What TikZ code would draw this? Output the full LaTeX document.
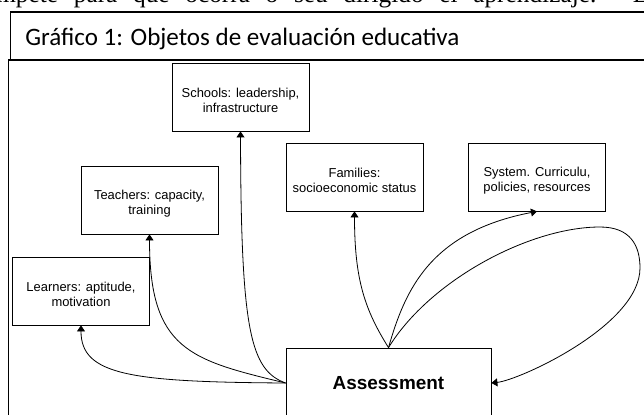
\documentclass[tikz,border=0pt]{standalone}
\usepackage{fontspec}
\setmainfont{Liberation Serif}
\newfontfamily\arialf{Liberation Sans}
\newfontfamily\calib{Carlito}
\usetikzlibrary{arrows.meta}
\begin{document}
\begin{tikzpicture}[x=0.75pt,y=-0.75pt,
  frame/.style={line width=1.3pt, line cap=rect},
  box/.style={draw, line width=0.6pt, inner sep=0pt,
    minimum width=102.75pt, minimum height=51pt},
  boxtext/.style={inner sep=0pt, align=center, yshift=-2.5pt,
    font=\arialf\fontsize{9.7}{11.3}\selectfont},
  conn/.style={line width=0.6pt, -{Triangle[length=4.5pt,width=6pt]}}]
\useasboundingbox (0,0) rectangle (644,415);
% cropped line of running text above the figure
\node[anchor=base west, inner sep=0pt] (toptext) at (-4,2.5)
  {\fontsize{19}{22}\selectfont\makebox[489pt][s]{mpete para que ocorra o seu dirigido el aprendizaje. E}};
% frames
\draw[frame] (660,12) -- (10.5,12) -- (10.5,60);
\draw[frame] (660,60) -- (8.5,60) -- (8.5,425);
\node[anchor=base west, inner sep=0pt, font=\calib\fontsize{18.8}{22}\selectfont] (title) at (25,45.5)
  {Gráfico 1: Objetos de evaluación educativa};
% boxes
\node[box] (schools) at (240.5,97) {};
\node[boxtext] (schoolst) at (schools.center) {Schools: leadership,\\infrastructure};
\node[box] (teachers) at (149.5,200) {};
\node[boxtext] (teacherst) at (teachers.center) {Teachers: capacity,\\training};
\node[box] (families) at (354.5,177) {};
\node[boxtext] (familiest) at (families.center) {Families:\\socioeconomic status};
\node[box] (system) at (537,177) {};
\node[boxtext] (systemt) at (system.center) {System. Curriculu,\\policies, resources};
\node[box] (learners) at (81,291) {};
\node[boxtext] (learnerst) at (learners.center) {Learners: aptitude,\\motivation};
\node[draw, line width=0.6pt, inner sep=0pt, minimum width=153.75pt, minimum height=52.5pt,
  font=\arialf\bfseries\fontsize{14.2}{17}\selectfont] (asm) at (388.5,383) {Assessment};
% connectors
\coordinate (looptop) at (600,227);
\coordinate (loopright) at (640,268);
\draw[conn] (asm.west) .. controls (130,382) and (81,375) .. (learners.south);
\draw[conn] (asm.west) .. controls (190,360) and (149.5,350) .. (teachers.south);
\draw[conn] (asm.west) .. controls (250,370) and (241,330) .. (schools.south);
\draw[conn] (asm.north) .. controls (365,310) and (354.5,280) .. (families.south);
\draw[conn] (asm.north) .. controls (405,290) and (430,232) .. (system.south);
\draw[conn] (asm.north) .. controls (430,280) and (530,227) .. (looptop)
  .. controls (630,227) and (640,245) .. (loopright)
  .. controls (640,325) and (520,380) .. (asm.east);
\end{tikzpicture}
\end{document}
